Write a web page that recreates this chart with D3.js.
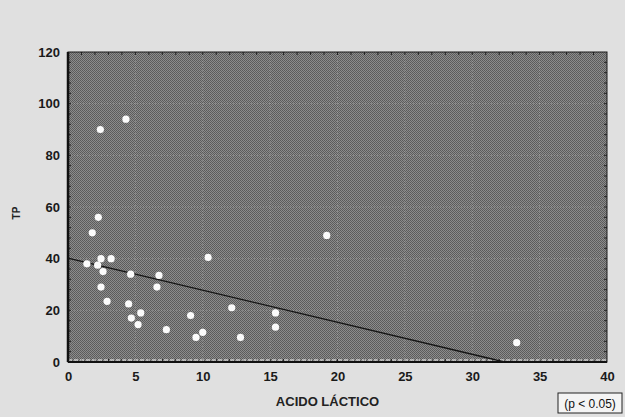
<!DOCTYPE html>
<html>
<head>
<meta charset="utf-8">
<script src="https://cdn.jsdelivr.net/npm/d3@7"></script>
<style>
  body { margin: 0; background: #e0e0e0; }
  svg { display: block; }
</style>
</head>
<body>
<svg id="chart" width="625" height="417"></svg>
<script>
// values
var acido = [2.4, 4.3, 2.25, 1.8, 2.45, 3.2, 1.4, 2.2, 2.6, 4.65, 6.75, 6.6, 2.45, 2.9, 4.5, 5.4, 4.7, 5.2, 7.3,
             19.2, 10.4, 12.15, 9.1, 15.4, 15.4, 10.0, 9.5, 12.8, 33.3];
var tp    = [90, 94, 56, 50, 40, 40, 38, 37.5, 35, 34, 33.5, 29, 29, 23.5, 22.5, 19, 17, 14.5, 12.5,
             49, 40.5, 21, 18, 19, 13.5, 11.5, 9.5, 9.5, 7.5];
// regression line end points
var trendX = [0, 32.4];
var trendY = [40.2, 0];
var xTicks = [0, 5, 10, 15, 20, 25, 30, 35, 40];
var yTicks = [0, 20, 40, 60, 80, 100, 120];

var svg = d3.select("#chart");
var margin = {left: 68, right: 18, top: 52, bottom: 55};
var W = 625, H = 417;

var x = d3.scaleLinear().domain([0, 40]).range([margin.left, W - margin.right]);
var y = d3.scaleLinear().domain([0, 120]).range([H - margin.bottom, margin.top]);

// halftone look of the scanned plot area
var defs = svg.append("defs");
var pat = defs.append("pattern")
    .attr("id", "dots")
    .attr("width", 2).attr("height", 2)
    .attr("patternUnits", "userSpaceOnUse");
pat.append("rect").attr("width", 2).attr("height", 2).attr("fill", "#8c8c8c");
pat.append("rect").attr("width", 1).attr("height", 1).attr("fill", "#5a5a5a");
pat.append("rect").attr("x", 1).attr("y", 1).attr("width", 1).attr("height", 1).attr("fill", "#5e5e5e");

svg.append("rect")
    .attr("width", W).attr("height", H)
    .attr("fill", "#e0e0e0");

svg.append("rect")
    .attr("x", x(0)).attr("y", y(120))
    .attr("width", x(40) - x(0)).attr("height", y(0) - y(120))
    .attr("fill", "url(#dots)");

// faint grid
var grid = svg.append("g").attr("stroke", "#b8b8b8").attr("stroke-opacity", 0.45)
    .attr("stroke-dasharray", "1,2");
grid.selectAll(".gx").data(xTicks.slice(1, -1)).enter().append("line")
    .attr("x1", d => x(d)).attr("x2", d => x(d))
    .attr("y1", y(0)).attr("y2", y(120));
grid.selectAll(".gy").data(yTicks.slice(1, -1)).enter().append("line")
    .attr("x1", x(0)).attr("x2", x(40))
    .attr("y1", d => y(d)).attr("y2", d => y(d));

// inner minor ticks
var minorX = d3.range(1, 40);
var minorY = d3.range(4, 120, 4);
var tk = svg.append("g").attr("stroke", "#222").attr("stroke-width", 1);
tk.selectAll(".tb").data(minorX).enter().append("line")
    .attr("x1", d => x(d)).attr("x2", d => x(d))
    .attr("y1", y(0)).attr("y2", y(0) - 3);
tk.selectAll(".tt").data(minorX).enter().append("line")
    .attr("x1", d => x(d)).attr("x2", d => x(d))
    .attr("y1", y(120)).attr("y2", y(120) + 3);
tk.selectAll(".tr").data(minorY).enter().append("line")
    .attr("x1", x(40)).attr("x2", x(40) - 3)
    .attr("y1", d => y(d)).attr("y2", d => y(d));
tk.selectAll(".tl").data(minorY).enter().append("line")
    .attr("x1", x(0)).attr("x2", x(0) + 3)
    .attr("y1", d => y(d)).attr("y2", d => y(d));

// white dashed strip above the bottom border
svg.append("line")
    .attr("x1", x(0)).attr("x2", x(40))
    .attr("y1", y(0) - 2).attr("y2", y(0) - 2)
    .attr("stroke", "#f2f2f2").attr("stroke-width", 1)
    .attr("stroke-dasharray", "4,2");

// frame
svg.append("rect")
    .attr("x", x(0)).attr("y", y(120))
    .attr("width", x(40) - x(0)).attr("height", y(0) - y(120))
    .attr("fill", "none").attr("stroke", "#1a1a1a").attr("stroke-width", 1);
svg.append("line")
    .attr("x1", x(0)).attr("x2", x(0)).attr("y1", y(120)).attr("y2", y(0))
    .attr("stroke", "#111").attr("stroke-width", 2.5);
svg.append("line")
    .attr("x1", x(0)).attr("x2", x(40)).attr("y1", y(0)).attr("y2", y(0))
    .attr("stroke", "#111").attr("stroke-width", 2);

// axes (labels only)
var xAxis = svg.append("g")
    .attr("transform", "translate(0," + y(0) + ")")
    .call(d3.axisBottom(x).tickValues(xTicks).tickSize(0).tickPadding(10));
var yAxis = svg.append("g")
    .attr("transform", "translate(" + x(0) + ",0)")
    .call(d3.axisLeft(y).tickValues(yTicks).tickSize(0).tickPadding(8));
[xAxis, yAxis].forEach(function(a) {
    a.select(".domain").remove();
    a.selectAll("text")
        .attr("fill", "#1a1a1a")
        .style("font-family", "'Liberation Sans', Arial, sans-serif")
        .style("font-size", "13px")
        .style("font-weight", "bold");
});

// regression line
svg.append("line")
    .attr("x1", x(trendX[0])).attr("y1", y(trendY[0]))
    .attr("x2", x(trendX[1])).attr("y2", y(trendY[1]))
    .attr("stroke", "#151515").attr("stroke-width", 1.3);

// points
svg.append("g").selectAll("circle")
    .data(acido)
    .enter()
    .append("circle")
    .attr("cx", d => x(d))
    .attr("cy", (d, i) => y(tp[i]))
    .attr("r", 3.6)
    .attr("fill", "#fbfbfb");

// titles
svg.append("text")
    .attr("x", (x(0) + x(40)) / 2 - 10).attr("y", 406)
    .attr("text-anchor", "middle")
    .attr("fill", "#222")
    .style("font-family", "'Liberation Sans', Arial, sans-serif")
    .style("font-size", "13px").style("font-weight", "bold")
    .text("ACIDO LÁCTICO");

svg.append("text")
    .attr("transform", "translate(20," + 213 + ") rotate(-90)")
    .attr("text-anchor", "middle")
    .attr("fill", "#222")
    .style("font-family", "'Liberation Sans', Arial, sans-serif")
    .style("font-size", "10px").style("font-weight", "bold")
    .text("TP");

// p-value box
svg.append("rect")
    .attr("x", 558).attr("y", 393).attr("width", 64).attr("height", 20)
    .attr("fill", "#f4f4f4").attr("stroke", "#222").attr("stroke-width", 1);
svg.append("text")
    .attr("x", 590).attr("y", 408)
    .attr("text-anchor", "middle")
    .attr("fill", "#111")
    .style("font-family", "'Liberation Sans', Arial, sans-serif")
    .style("font-size", "12px")
    .text("(p < 0.05)");
</script>
</body>
</html>
